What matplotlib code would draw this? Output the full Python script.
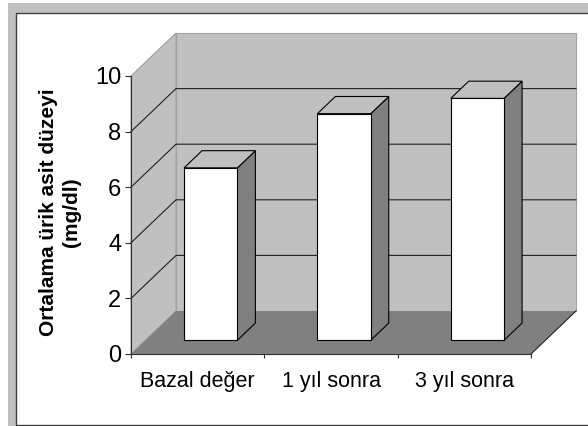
import matplotlib
matplotlib.use('Agg')
import matplotlib.pyplot as plt
from matplotlib.patches import Polygon, Rectangle

categories = ['Bazal değer', '1 yıl sonra', '3 yıl sonra']
values = [6.2, 8.15, 8.7]
y_ticks = [0, 2, 4, 6, 8, 10]
y_label = 'Ortalama ürik asit düzeyi\n(mg/dl)'

W, H = 588, 426
plt.rcParams['font.family'] = ['Liberation Sans', 'DejaVu Sans']

fig = plt.figure(figsize=(W / 100, H / 100), dpi=100, facecolor='white')

# chart frame, in pixels from the top left
def frame(x, y, w, h, **kw):
    fig.add_artist(Rectangle((x / W, 1 - (y + h) / H), w / W, h / H,
                             transform=fig.transFigure, zorder=-2, **kw))

frame(8, 3, W - 8, H - 3, fc='#c0c0c0', ec='none')
frame(15.5, 12.5, W - 15.5 + 5, 412, fc='white', ec='#404040', lw=1.0)

# axes is the front plane of the 3d box
ax = fig.add_axes([131 / W, 1 - 354 / H, 400 / W, 278 / H])
ax.set_xlim(0, 3)
ax.set_ylim(0, 10)
ax.patch.set_visible(False)

# depth of the box as an offset in data units
dx = 45 / (400 / 3)
dy = 43 / 27.8


def p(x, y, d):
    return (x + d * dx, y + d * dy)


def poly(pts, fc, ec='none', lw=0.8, z=1):
    ax.add_patch(Polygon(pts, closed=True, fc=fc, ec=ec, lw=lw, zorder=z,
                         clip_on=False, joinstyle='miter'))


# walls and floor
poly([p(0, 0, 0), p(0, 10, 0), p(0, 10, 1), p(0, 0, 1)], '#c0c0c0', '#a0a0a0')
poly([p(0, 0, 1), p(0, 10, 1), p(3, 10, 1), p(3, 0, 1)], '#c0c0c0', '#a0a0a0')

for t in y_ticks[1:-1]:
    xs, ys = zip(p(0, t, 0), p(0, t, 1), p(3, t, 1))
    ax.plot(xs, ys, color='#202020', lw=0.8, zorder=2, clip_on=False)

poly([p(0, 0, 0), p(3, 0, 0), p(3, 0, 1), p(0, 0, 1)], '#808080', z=3)
xs, ys = zip(p(3, 0, 0), p(3, 0, 1))
ax.plot(xs, ys, color='#202020', lw=0.8, zorder=3, clip_on=False)

# bars
bar_w = 0.4
d0, d1 = 0.32, 0.72
for i, v in enumerate(values):
    x0 = i + 0.29
    x1 = x0 + bar_w
    poly([p(x1, 0, d0), p(x1, v, d0), p(x1, v, d1), p(x1, 0, d1)], '#808080', 'black', z=4)
    poly([p(x0, v, d0), p(x1, v, d0), p(x1, v, d1), p(x0, v, d1)], '#c0c0c0', 'black', z=4)
    poly([p(x0, 0, d0), p(x1, 0, d0), p(x1, v, d0), p(x0, v, d0)], 'white', 'black', z=5)

# axes lines and labels
ax.spines['top'].set_visible(False)
ax.spines['right'].set_visible(False)
for s in ['left', 'bottom']:
    ax.spines[s].set_linewidth(0.8)
    ax.spines[s].set_color('#303030')
    ax.spines[s].set_zorder(6)

ax.set_yticks(y_ticks)
ax.tick_params(axis='y', length=4, width=0.8, pad=3, labelsize=17, color='#303030')
ax.set_xticks(range(len(categories) + 1))
ax.set_xticklabels([])
ax.set_xticks([i + 0.5 for i in range(len(categories))], minor=True)
ax.set_xticklabels(categories, minor=True, fontsize=15.5)
ax.tick_params(axis='x', which='major', length=3, width=0.8, color='#303030')
ax.tick_params(axis='x', which='minor', length=0, pad=12)

fig.text(60 / W, 1 - 212 / H, y_label, rotation=90, ha='center', va='center',
         fontsize=15, fontweight='bold', linespacing=1.2, multialignment='center')

fig.savefig('out.png', dpi=100)
